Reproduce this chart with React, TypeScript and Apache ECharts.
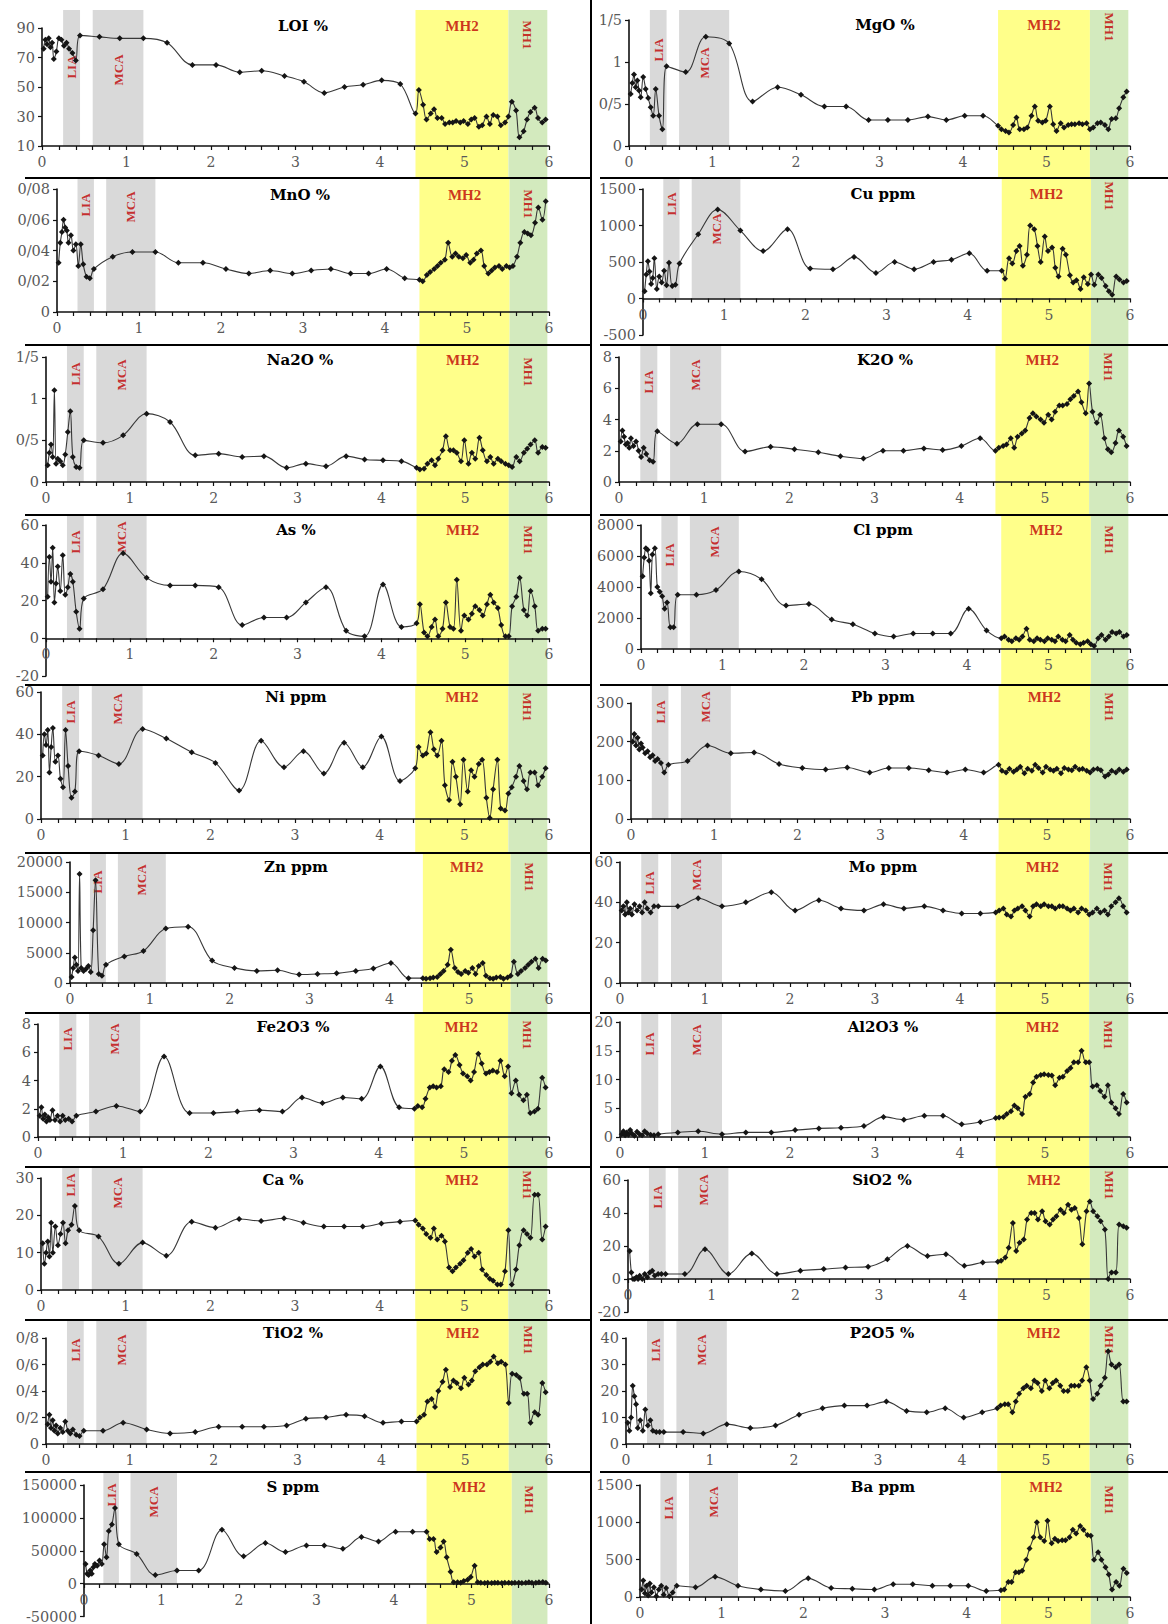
import React, { useEffect, useRef } from "react";
import * as echarts from "echarts";

// Sample positions along the x axis (shared by every panel)
const DEPTH = [
  0.02, 0.04, 0.06, 0.08, 0.1, 0.12, 0.14, 0.17, 0.2, 0.23, 0.26, 0.29, 0.32, 0.36, 0.4,
  0.45, 0.68, 0.92, 1.2, 1.48, 1.78, 2.06, 2.34, 2.6, 2.87, 3.1, 3.34, 3.58, 3.8, 4.02, 4.24,
  4.42, 4.46, 4.51, 4.55, 4.6, 4.64, 4.68, 4.73, 4.77, 4.82, 4.86, 4.9, 4.95, 4.99, 5.04, 5.08, 5.12, 5.17, 5.21, 5.26,
  5.3, 5.34, 5.39, 5.43, 5.48, 5.52, 5.56, 5.61, 5.65, 5.7, 5.74, 5.78, 5.83, 5.87, 5.92, 5.96,
];

const LOI = [76, 82, 79, 83, 77, 80, 69, 74, 83, 82, 78, 80, 76, 73, 68,
  85, 84, 83, 83, 80, 65, 65, 60, 61, 57.5, 53.5, 46, 50, 51.5, 54.5, 52,
  32, 48, 38, 28, 32, 35, 29, 29, 25, 26, 26, 27, 26, 27, 25, 28, 29, 23, 24, 30, 25, 31, 30, 24, 26,
  30, 40, 34, 16, 20, 28, 33, 36, 29, 26, 28];
const MGO = [0.62, 0.75, 0.85, 0.7, 0.78, 0.66, 0.58, 0.82, 0.68, 0.57, 0.46, 0.36, 0.68, 0.36, 0.2,
  0.95, 0.88, 1.3, 1.22, 0.53, 0.7, 0.61, 0.47, 0.47, 0.31, 0.31, 0.31, 0.35, 0.31, 0.36, 0.36,
  0.24, 0.2, 0.18, 0.16, 0.25, 0.34, 0.2, 0.2, 0.22, 0.36, 0.47, 0.3, 0.28, 0.3, 0.47, 0.26, 0.18, 0.27, 0.22, 0.25, 0.26, 0.26, 0.27, 0.26, 0.27,
  0.2, 0.22, 0.27, 0.28, 0.25, 0.2, 0.32, 0.33, 0.45, 0.58, 0.65];
const MNO = [0.032, 0.045, 0.052, 0.06, 0.055, 0.053, 0.045, 0.05, 0.04, 0.044, 0.03, 0.044, 0.031, 0.023, 0.022,
  0.028, 0.036, 0.039, 0.039, 0.032, 0.032, 0.028, 0.025, 0.027, 0.025, 0.027, 0.028, 0.025, 0.025, 0.028, 0.022,
  0.021, 0.02, 0.024, 0.026, 0.028, 0.03, 0.032, 0.034, 0.045, 0.036, 0.038, 0.036, 0.035, 0.037, 0.032, 0.034, 0.038, 0.04, 0.03, 0.025, 0.027, 0.029, 0.03, 0.028, 0.03,
  0.029, 0.03, 0.036, 0.045, 0.052, 0.051, 0.05, 0.058, 0.068, 0.06, 0.072];
const CU = [100, 330, 510, 370, 200, 280, 550, 130, 300, 220, 380, 180, 490, 170, 190,
  480, 880, 1220, 930, 650, 950, 410, 400, 570, 350, 500, 400, 500, 530, 620, 380,
  380, 270, 550, 480, 650, 720, 450, 600, 1000, 950, 720, 500, 850, 650, 700, 420, 300, 680, 600, 320, 220, 250, 130, 290, 200,
  330, 190, 330, 280, 170, 100, 50, 300, 260, 220, 240];
const NA2O = [0.2, 0.35, 0.45, 0.3, 1.1, 0.22, 0.28, 0.25, 0.2, 0.33, 0.6, 0.85, 0.3, 0.18, 0.17,
  0.5, 0.47, 0.56, 0.82, 0.72, 0.32, 0.34, 0.3, 0.31, 0.17, 0.22, 0.19, 0.31, 0.27, 0.26, 0.25,
  0.17, 0.15, 0.16, 0.22, 0.26, 0.2, 0.28, 0.38, 0.55, 0.38, 0.38, 0.35, 0.25, 0.5, 0.22, 0.35, 0.28, 0.53, 0.38, 0.25, 0.3, 0.22, 0.28, 0.25, 0.22,
  0.2, 0.18, 0.3, 0.25, 0.35, 0.4, 0.45, 0.5, 0.35, 0.42, 0.41];
const K2O = [2.6, 3.3, 2.9, 2.4, 2.5, 2.2, 2.8, 2.3, 2.6, 2.0, 1.6, 2.2, 1.8, 1.4, 1.3,
  3.25, 2.45, 3.7, 3.7, 1.95, 2.25, 2.1, 1.9, 1.65, 1.5, 2.0, 2.0, 2.15, 2.05, 2.3, 2.8,
  2.0, 2.2, 2.3, 2.4, 2.8, 2.2, 2.9, 3.1, 3.3, 4.1, 4.4, 4.2, 4.0, 3.8, 4.3, 4.0, 4.5, 4.9, 4.9, 5.0, 5.3, 5.5, 5.8, 5.1, 4.4,
  6.3, 4.5, 3.8, 4.3, 2.8, 2.1, 1.9, 2.5, 3.3, 2.9, 2.3];
const AS = [22, 43, 30, 48, 19, 29, 38, 25, 44, 23, 27, 34, 30, 14, 5,
  21, 26, 45, 32, 28, 28, 27, 7, 11, 11, 19, 27, 4, 1, 28.5, 6,
  8, 18, 3, 1, 6, 10, 1, 5, 19, 6, 5, 31, 4, 12, 10, 13, 17, 15, 12, 18, 23, 19, 16, 7, 1,
  1, 17, 22, 32, 15, 12, 25, 17, 4, 5, 5];
const CL = [4700, 5900, 6500, 6400, 5700, 3600, 6100, 6500, 4000, 3700, 3400, 2600, 3000, 1400, 1400,
  3500, 3500, 3800, 5000, 4500, 2800, 2900, 1900, 1600, 1000, 800, 1000, 1000, 1000, 2600, 1200,
  700, 800, 600, 500, 700, 600, 800, 1300, 600, 500, 700, 600, 500, 700, 600, 500, 800, 600, 500, 900, 600, 400, 300, 400, 500,
  300, 200, 700, 900, 600, 800, 1100, 1000, 1100, 800, 900];
const NI = [30, 40, 35, 42, 22, 34, 43, 27, 30, 19, 15, 42, 25, 10, 13,
  32, 30, 26, 42.5, 38, 31.5, 26.5, 13.5, 37, 24.5, 32, 21.5, 36, 24.5, 39, 18,
  24, 34, 30, 31, 41, 33, 30, 37, 16, 9, 27, 20, 7, 28, 13, 23, 20, 26, 28, 10, 0.5, 14, 28, 5, 4,
  12, 15, 20, 25, 18, 14, 22, 22, 16, 20, 24];
const PB = [200, 220, 190, 210, 180, 195, 185, 170, 175, 160, 165, 150, 155, 145, 120,
  140, 150, 190, 170, 172, 142, 132, 128, 133, 120, 132, 132, 126, 120, 128, 120,
  140, 125, 120, 130, 122, 128, 135, 118, 130, 125, 140, 132, 120, 135, 128, 125, 130, 118, 132, 128, 126, 135, 128, 130, 125,
  120, 128, 130, 126, 110, 115, 125, 120, 128, 122, 128];
const ZN = [1000, 2500, 4200, 3000, 2000, 18000, 2500, 2000, 2300, 2800, 1800, 8700, 17000, 1500, 1200,
  3000, 4400, 5300, 9000, 9300, 3700, 2500, 2000, 2100, 1400, 1500, 1600, 2000, 2400, 3300, 800,
  800, 700, 800, 900, 1000, 1500, 2000, 3000, 5500, 2500, 1800, 1500, 2000, 1700, 2500, 1500, 2800, 3300, 1200, 800, 700, 900, 1000, 700, 900,
  1200, 3500, 1500, 2000, 2500, 3000, 3500, 4000, 2500, 4000, 3700];
const MO = [36, 38, 34, 40, 35, 37, 34, 39, 36, 38, 35, 40, 37, 35, 38,
  38, 38, 42, 38, 40, 45, 36, 41, 37, 36, 39, 37, 38, 36, 34.5, 34.5,
  35, 36, 37, 34, 33, 36, 37, 38, 36, 33, 38, 39, 38, 39, 38, 38, 37, 38, 38, 37, 36, 37, 35, 37, 36,
  34, 35, 37, 35, 36, 34, 38, 40, 42, 38, 35];
const FE2O3 = [1.5, 2.1, 1.3, 1.6, 1.1, 1.4, 1.2, 1.9, 1.2, 1.5, 1.1, 1.5, 1.2, 1.3, 1.1,
  1.5, 1.8, 2.2, 1.8, 5.7, 1.7, 1.7, 1.8, 1.9, 1.8, 2.8, 2.4, 2.8, 2.7, 5.0, 2.1,
  2.0, 2.2, 2.1, 2.7, 3.5, 3.6, 3.5, 3.6, 4.8, 4.6, 5.4, 5.8, 5.1, 4.5, 4.3, 4.0, 4.6, 5.9, 5.2, 4.5, 4.6, 4.7, 4.6, 5.4, 4.3,
  5.0, 3.1, 4.0, 3.0, 2.6, 3.0, 1.7, 1.8, 2.0, 4.2, 3.5];
const AL2O3 = [0.5, 1.0, 0.3, 0.8, 0.4, 1.2, 0.6, 0.2, 0.9, 0.5, 0.3, 1.0, 0.6, 0.4, 0.3,
  0.5, 0.8, 1.0, 0.5, 0.8, 0.8, 1.2, 1.5, 1.6, 1.9, 3.5, 3.0, 3.7, 3.7, 2.2, 2.6,
  3.3, 3.4, 3.5, 4.0, 4.5, 5.5, 5.0, 4.0, 7.0, 7.5, 9.5, 10.5, 10.8, 10.9, 10.8, 10.7, 9.0, 10.3, 10.5, 11.5, 12.0, 13.0, 13.0, 15.0, 13.0,
  13.0, 8.8, 9.0, 8.0, 7.0, 9.0, 6.0, 5.0, 4.0, 7.5, 6.0];
const CA = [12.5, 7, 10, 13, 9, 18, 10, 17, 12, 15, 18, 12.5, 16, 17.5, 22.5,
  16, 14.3, 7, 12.7, 9.2, 18.3, 16.7, 19, 18.5, 19.2, 18, 17, 17, 17, 17.8, 18.3,
  18.6, 17.5, 16.5, 15, 14, 16.5, 13.5, 14.5, 13, 6, 5, 6, 7, 8, 10, 11, 9, 10, 5.5, 4, 3, 2.5, 1.5, 1.5, 5,
  16, 1.5, 5.5, 12, 16, 15, 14, 25.5, 25.5, 13.5, 17];
const SIO2 = [17, 4, 0, 0, 1, 0, 2, 0, 3, 1, 4, 5, 2, 3, 3,
  3, 3, 18, 3, 15.5, 3, 5, 6, 7, 7.5, 12, 20, 14, 15, 8, 10,
  10.5, 11, 13, 19, 34, 17, 22, 24, 36, 40, 40, 36, 41, 35, 33, 36, 38, 42, 40, 45, 42, 43, 37, 21, 41,
  47, 41, 38, 35, 30, 0, 4, 4, 33, 32, 31];
const TIO2 = [0.15, 0.22, 0.12, 0.18, 0.1, 0.14, 0.08, 0.12, 0.09, 0.17, 0.1, 0.08, 0.11, 0.07, 0.06,
  0.1, 0.1, 0.16, 0.11, 0.08, 0.09, 0.13, 0.13, 0.13, 0.14, 0.19, 0.2, 0.22, 0.21, 0.16, 0.17,
  0.17, 0.2, 0.22, 0.32, 0.34, 0.28, 0.4, 0.47, 0.56, 0.43, 0.48, 0.46, 0.42, 0.5, 0.45, 0.48, 0.55, 0.58, 0.6, 0.6, 0.62, 0.66, 0.61, 0.62, 0.6,
  0.31, 0.53, 0.52, 0.5, 0.38, 0.38, 0.16, 0.24, 0.22, 0.46, 0.39];
const P2O5 = [8, 5, 10, 22, 18, 15, 6, 9, 5, 13, 7, 9, 5, 4.5, 4.5,
  4.5, 4.5, 4, 7.5, 6, 7, 11, 13.5, 14.5, 14.5, 16, 12.5, 12, 13.5, 10, 12,
  13.5, 14.5, 15, 15, 12, 16, 19, 21, 22, 21, 24, 23, 20, 24, 21, 23, 24, 22, 20, 20, 22, 22, 22, 24, 29,
  24, 17, 19, 22, 25, 35, 30, 29, 30, 16, 16];
const S = [30000, 15000, 13000, 20000, 15000, 25000, 30000, 27000, 35000, 30000, 60000, 40000, 80000, 90000, 115000,
  60000, 45000, 13000, 20000, 20000, 82000, 41500, 61700, 48000, 58000, 58000, 53000, 70800, 64000, 79000, 79000,
  79000, 68000, 68000, 48000, 55000, 64000, 40000, 18000, 2000, 2000, 1500, 4000, 6000, 10000, 27000, 2000, 1500, 1000, 1500, 1000, 1500, 1200, 1000, 1500, 1200,
  1000, 1500, 1200, 1000, 1500, 2000, 1500, 1200, 2000, 2500, 1500];
const BA = [100, 220, 50, 150, 20, 180, 60, 130, 10, 100, 150, 30, 120, 10, 60,
  150, 130, 270, 150, 100, 80, 250, 120, 110, 100, 170, 170, 150, 150, 150, 80,
  90, 100, 200, 200, 330, 330, 350, 500, 650, 800, 1000, 800, 750, 1020, 720, 780, 750, 760, 760, 800, 900, 850, 950, 900, 830,
  820, 500, 600, 500, 400, 300, 100, 200, 150, 380, 320];

// Y tick labels (as printed, with "/" as decimal separator)
const LOI_TICKS = ["10", "30", "50", "70", "90"];
const MGO_TICKS = ["0", "0/5", "1", "1/5"];
const MNO_TICKS = ["0", "0/02", "0/04", "0/06", "0/08"];
const CU_TICKS = ["-500", "0", "500", "1000", "1500"];
const NA2O_TICKS = ["0", "0/5", "1", "1/5"];
const K2O_TICKS = ["0", "2", "4", "6", "8"];
const AS_TICKS = ["-20", "0", "20", "40", "60"];
const CL_TICKS = ["0", "2000", "4000", "6000", "8000"];
const NI_TICKS = ["0", "20", "40", "60"];
const PB_TICKS = ["0", "100", "200", "300"];
const ZN_TICKS = ["0", "5000", "10000", "15000", "20000"];
const MO_TICKS = ["0", "20", "40", "60"];
const FE2O3_TICKS = ["0", "2", "4", "6", "8"];
const AL2O3_TICKS = ["0", "5", "10", "15", "20"];
const CA_TICKS = ["0", "10", "20", "30"];
const SIO2_TICKS = ["-20", "0", "20", "40", "60"];
const TIO2_TICKS = ["0", "0/2", "0/4", "0/6", "0/8"];
const P2O5_TICKS = ["0", "10", "20", "30", "40"];
const S_TICKS = ["-50000", "0", "50000", "100000", "150000"];
const BA_TICKS = ["0", "500", "1000", "1500"];

// Climate episodes (x ranges)
const BAND_NAMES = ["LIA", "MCA", "MH2", "MH1"];
const BAND_FROM = [0.25, 0.6, 4.42, 5.52];
const BAND_TO = [0.45, 1.2, 5.52, 5.98];

// ---------- layout (not data) ----------
const FONT = "'Liberation Serif','Times New Roman',serif";
const WIDE = "'DejaVu Serif',serif";
const ROWS = [[0, 178], [178, 345], [345, 515], [515, 685], [685, 853], [853, 1013], [1013, 1167], [1167, 1320], [1320, 1472], [1472, 1624]];
const GRAY = "#d9d9d9";
const YELLOW = "#ffff8a";
const GREEN = "#d3eabe";
const RED = "#c00000";

type Panel = {
  title: string; vals: number[]; ticks: string[]; min: number; max: number; interval: number;
  col: number; row: number; x0: number; yTop: number; yBot: number; tx: number; lab: number[];
};

const PANELS: Panel[] = [
  { title: "LOI %", vals: LOI, ticks: LOI_TICKS, min: 10, max: 90, interval: 20, col: 0, row: 0, x0: 42, yTop: 28, yBot: 146, tx: 303, lab: [67, 70, 26, 35] },
  { title: "MgO %", vals: MGO, ticks: MGO_TICKS, min: 0, max: 1.5, interval: 0.5, col: 1, row: 0, x0: 629, yTop: 20, yBot: 146, tx: 885, lab: [50, 63, 25, 27] },
  { title: "MnO %", vals: MNO, ticks: MNO_TICKS, min: 0, max: 0.08, interval: 0.02, col: 0, row: 1, x0: 57, yTop: 189, yBot: 312, tx: 300, lab: [27, 29, 17, 26] },
  { title: "Cu ppm", vals: CU, ticks: CU_TICKS, min: -500, max: 1500, interval: 500, col: 1, row: 1, x0: 643, yTop: 189, yBot: 335, tx: 883, lab: [26, 51, 16, 18] },
  { title: "Na2O %", vals: NA2O, ticks: NA2O_TICKS, min: 0, max: 1.5, interval: 0.5, col: 0, row: 2, x0: 46, yTop: 357, yBot: 482, tx: 300, lab: [29, 30, 15, 27] },
  { title: "K2O %", vals: K2O, ticks: K2O_TICKS, min: 0, max: 8, interval: 2, col: 1, row: 2, x0: 619, yTop: 357, yBot: 482, tx: 885, lab: [37, 30, 15, 22] },
  { title: "As %", vals: AS, ticks: AS_TICKS, min: -20, max: 60, interval: 20, col: 0, row: 3, x0: 46, yTop: 525, yBot: 676, tx: 296, lab: [27, 22, 15, 25] },
  { title: "Cl ppm", vals: CL, ticks: CL_TICKS, min: 0, max: 8000, interval: 2000, col: 1, row: 3, x0: 641, yTop: 525, yBot: 649, tx: 883, lab: [40, 27, 15, 25] },
  { title: "Ni ppm", vals: NI, ticks: NI_TICKS, min: 0, max: 60, interval: 20, col: 0, row: 4, x0: 41, yTop: 692, yBot: 819, tx: 296, lab: [27, 24, 12, 22] },
  { title: "Pb ppm", vals: PB, ticks: PB_TICKS, min: 0, max: 300, interval: 100, col: 1, row: 4, x0: 631, yTop: 703, yBot: 819, tx: 883, lab: [27, 22, 12, 22] },
  { title: "Zn ppm", vals: ZN, ticks: ZN_TICKS, min: 0, max: 20000, interval: 5000, col: 0, row: 5, x0: 70, yTop: 862, yBot: 983, tx: 296, lab: [29, 27, 14, 24] },
  { title: "Mo ppm", vals: MO, ticks: MO_TICKS, min: 0, max: 60, interval: 20, col: 1, row: 5, x0: 620, yTop: 862, yBot: 983, tx: 883, lab: [30, 22, 14, 24] },
  { title: "Fe2O3 %", vals: FE2O3, ticks: FE2O3_TICKS, min: 0, max: 8, interval: 2, col: 0, row: 6, x0: 38, yTop: 1024, yBot: 1137, tx: 293, lab: [26, 26, 14, 22] },
  { title: "Al2O3 %", vals: AL2O3, ticks: AL2O3_TICKS, min: 0, max: 20, interval: 5, col: 1, row: 6, x0: 620, yTop: 1022, yBot: 1137, tx: 883, lab: [31, 27, 14, 22] },
  { title: "Ca %", vals: CA, ticks: CA_TICKS, min: 0, max: 30, interval: 10, col: 0, row: 7, x0: 41, yTop: 1178, yBot: 1290, tx: 283, lab: [18, 26, 13, 18] },
  { title: "SiO2 %", vals: SIO2, ticks: SIO2_TICKS, min: -20, max: 60, interval: 20, col: 1, row: 7, x0: 628, yTop: 1180, yBot: 1312, tx: 882, lab: [30, 23, 13, 18] },
  { title: "TiO2 %", vals: TIO2, ticks: TIO2_TICKS, min: 0, max: 0.8, interval: 0.2, col: 0, row: 8, x0: 46, yTop: 1338, yBot: 1444, tx: 293, lab: [30, 30, 13, 20] },
  { title: "P2O5 %", vals: P2O5, ticks: P2O5_TICKS, min: 0, max: 40, interval: 10, col: 1, row: 8, x0: 626, yTop: 1338, yBot: 1444, tx: 882, lab: [30, 30, 13, 20] },
  { title: "S ppm", vals: S, ticks: S_TICKS, min: -50000, max: 150000, interval: 50000, col: 0, row: 9, x0: 84, yTop: 1485, yBot: 1617, tx: 293, lab: [23, 30, 15, 28] },
  { title: "Ba ppm", vals: BA, ticks: BA_TICKS, min: 0, max: 1500, interval: 500, col: 1, row: 9, x0: 640, yTop: 1485, yBot: 1597, tx: 883, lab: [36, 30, 15, 28] },
];

const BAND_COLORS = [GRAY, GRAY, YELLOW, GREEN];
const BAND_ROT = [90, 90, 0, -90];
const BAND_SIZE = [13, 13, 15, 13];

function buildOption() {
  const grid: any[] = [];
  const xAxis: any[] = [];
  const yAxis: any[] = [];
  const series: any[] = [];
  const graphic: any[] = [];

  PANELS.forEach((p) => {
    const [rt, rb] = ROWS[p.row];
    const rh = rb - rt;
    const x6 = p.col === 0 ? 549 : 1130;
    const gi = grid.length;
    const zeroY = p.min < 0 ? p.yTop + (p.max / (p.max - p.min)) * (p.yBot - p.yTop) : p.yBot;
    const topPad = p.row === 0 ? 10 : 1;

    // 0: data grid, 1: band grid (whole row), 2: x-axis grid (thin strip at the zero line)
    grid.push({ left: p.x0, top: p.yTop, width: x6 - p.x0, height: p.yBot - p.yTop });
    grid.push({ left: p.x0, top: rt, width: x6 - p.x0, height: rh });
    grid.push({ left: p.x0, top: zeroY - 1, width: x6 - p.x0, height: 1 });

    xAxis.push({ gridIndex: gi, type: "value", min: 0, max: 6, show: false });
    xAxis.push({ gridIndex: gi + 1, type: "value", min: 0, max: 6, show: false });
    xAxis.push({
      gridIndex: gi + 2, type: "value", min: 0, max: 6, interval: 0.2, z: 3, position: "bottom",
      axisLine: { show: true, onZero: false, lineStyle: { color: "#111", width: 1.6 } },
      axisTick: { show: true, length: 4, lineStyle: { color: "#111", width: 1.2 } },
      axisLabel: {
        show: true, margin: 9, color: "#595959", fontFamily: WIDE, fontSize: 14,
        formatter: (v: number) => { const r = Math.round(v); return Math.abs(v - r) < 1e-6 ? String(r) : ""; },
      },
      splitLine: { show: false },
    });

    yAxis.push({
      gridIndex: gi, type: "value", min: p.min, max: p.max, interval: p.interval, z: 3,
      axisLine: { show: true, onZero: false, lineStyle: { color: "#111", width: 1.6 } },
      axisTick: { show: true, length: 4, lineStyle: { color: "#111", width: 1.2 } },
      axisLabel: {
        margin: 7, color: "#595959", fontFamily: WIDE, fontSize: 14.5,
        formatter: (v: number) => p.ticks[Math.round((v - p.min) / p.interval)] ?? "",
      },
      splitLine: { show: false },
    });
    yAxis.push({ gridIndex: gi + 1, type: "value", min: 0, max: rh, inverse: true, show: false });
    yAxis.push({ gridIndex: gi + 2, type: "value", min: 0, max: 1, show: false });

    // bands + their labels
    series.push({
      type: "scatter", xAxisIndex: gi + 1, yAxisIndex: gi + 1, z: 1, silent: true,
      symbolSize: 1, itemStyle: { color: "rgba(0,0,0,0)" },
      data: BAND_NAMES.map((n, k) => ({
        name: n,
        value: [(BAND_FROM[k] + BAND_TO[k]) / 2, p.lab[k]],
        label: { rotate: BAND_ROT[k], fontSize: BAND_SIZE[k] },
      })),
      label: {
        show: true, formatter: "{b}", position: "inside", color: RED, fontWeight: "bold",
        fontFamily: FONT, align: "center", verticalAlign: "middle",
      },
      markArea: {
        silent: true,
        label: { show: false },
        data: BAND_NAMES.map((n, k) => [
          { xAxis: BAND_FROM[k], yAxis: topPad, itemStyle: { color: BAND_COLORS[k], opacity: 1, borderWidth: 0 } },
          { xAxis: BAND_TO[k], yAxis: k < 2 ? zeroY - rt : rh },
        ]),
      },
    });

    // data line
    series.push({
      type: "line", xAxisIndex: gi, yAxisIndex: gi, z: 4, silent: true,
      data: DEPTH.map((x, i) => [x, p.vals[i]]).filter((d) => d[1] !== undefined),
      smooth: 0.35, symbol: "diamond", symbolSize: 6, showAllSymbol: true,
      itemStyle: { color: "#151515" },
      lineStyle: { color: "#383838", width: 1.1 },
    });

    graphic.push({
      type: "text", x: p.tx, y: rt + p.lab[2], z: 20,
      style: {
        text: p.title, fill: "#000", font: `bold 15px ${WIDE}`,
        textAlign: "center", textVerticalAlign: "middle", align: "center", verticalAlign: "middle",
      },
    });
  });

  // panel separators
  ROWS.slice(1).forEach(([t]) => {
    graphic.push({ type: "line", z: 30, shape: { x1: 25, y1: t, x2: 591, y2: t }, style: { stroke: "#000", lineWidth: 2 } });
    graphic.push({ type: "line", z: 30, shape: { x1: 600, y1: t, x2: 1168, y2: t }, style: { stroke: "#000", lineWidth: 2 } });
  });
  graphic.push({ type: "line", z: 30, shape: { x1: 591, y1: 0, x2: 591, y2: 1624 }, style: { stroke: "#000", lineWidth: 2 } });

  return {
    animation: false,
    backgroundColor: "#ffffff",
    color: ["#151515"],
    grid, xAxis, yAxis, series, graphic,
  };
}

export default function App() {
  const ref = useRef<HTMLDivElement>(null);
  useEffect(() => {
    if (!ref.current) return;
    const chart = echarts.init(ref.current, undefined, { renderer: "svg" });
    chart.setOption(buildOption() as any);
    return () => chart.dispose();
  }, []);
  return (
    <div
      ref={ref}
      style={{ position: "absolute", left: 0, top: 0, width: 1168, height: 1624, background: "#fff" }}
    />
  );
}
